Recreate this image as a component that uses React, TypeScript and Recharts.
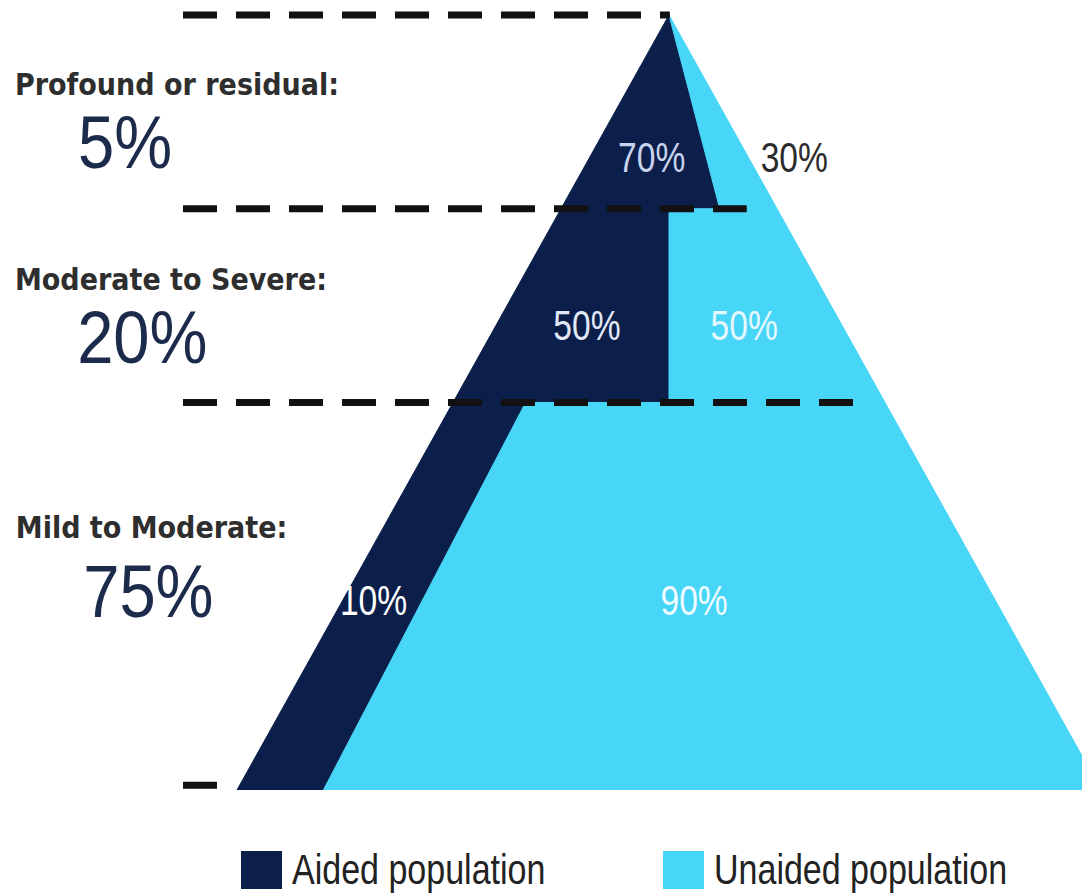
import React from 'react';
import { ComposedChart, Area, XAxis, YAxis, ReferenceLine, ReferenceDot, Legend } from 'recharts';

// pyramid layers, top first
const layerNames = ['Profound or residual:', 'Moderate to Severe:', 'Mild to Moderate:'];
const layerShares = ['5%', '20%', '75%'];
const aidedShare = [70, 50, 10];
const unaidedShare = [30, 50, 90];
const seriesNames = ['Aided population', 'Unaided population'];

// layer bounds on a 0 (base) .. 100 (apex) height scale
const layerTop = [100, 75, 50];
const layerBottom = [75, 50, 0];
// where the aided part stops, as a fraction of the layer width at its top / bottom edge
const aidedEdgeTop = [0, 0.5, 0.168];
const aidedEdgeBottom = [0.735, 0.5, 0.1];

const AIDED = '#0b1f4a';
const UNAIDED = '#47d5f8';
const SANS = "'Liberation Sans', Arial, sans-serif";
const CONDENSED = "'DejaVu Sans Condensed', 'DejaVu Sans', sans-serif";

// base of the pyramid runs from -50 to 50
const halfWidth = (level: number) => 50 * (1 - level / 100);

const rows = layerNames.flatMap((_, i) =>
  [layerTop[i], layerBottom[i]].map((level, j) => {
    const hw = halfWidth(level);
    const edge = -hw + 2 * hw * (j === 0 ? aidedEdgeTop[i] : aidedEdgeBottom[i]);
    return { level, aided: [-hw, edge], unaided: [edge, hw] };
  })
);

// dashed guides on the left
const guideLevels = [100, 75, 50, 0.6];
const guideEnds = [0.1, 9, 21.3, -52.3];
const GUIDE_START = -56.25;

// text anchors, in chart units
const nameAnchors = [{ x: -75.7, y: 89.7 }, { x: -75.7, y: 64.5 }, { x: -75.6, y: 32.5 }];
const shareAnchors = [{ x: -68.4, y: 80.3 }, { x: -68.5, y: 55.1 }, { x: -67.8, y: 22.3 }];
const aidedAnchors = [{ x: -2, y: 79.7 }, { x: -9.5, y: 58.1 }, { x: -34.2, y: 22.6 }];
const unaidedAnchors = [{ x: 14.5, y: 79.7 }, { x: 8.7, y: 58.1 }, { x: 2.9, y: 22.6 }];
const aidedTextColors = ['#c9d3ee', '#e2e8f7', '#ffffff'];
const unaidedTextColors = ['#2b2b2b', '#e4f7fd', '#eefbff'];
const legendX = [241, 663];

// condensed look: squeeze the glyphs horizontally around the anchor
const textShape = (text: string, style: React.SVGProps<SVGTextElement>, sx = 1) => (p: any) => (
  <text transform={`translate(${p.cx} ${p.cy}) scale(${sx} 1)`} {...style}>{text}</text>
);

const renderLegend = (props: any) => {
  const items = (props.payload || []).filter((p: any) => p.type !== 'none');
  return (
    <svg width={1082} height={47} style={{ display: 'block' }}>
      {items.map((item: any, i: number) => (
        <g key={item.value}>
          <rect x={legendX[i]} y={5} width={41} height={38} fill={item.color} />
          <text
            transform={`translate(${legendX[i] + 51} 38) scale(0.81 1)`}
            fontFamily={SANS}
            fontSize={42}
            fill="#222"
          >
            {item.value}
          </text>
        </g>
      ))}
    </svg>
  );
};

export default function App() {
  return (
    <div style={{ position: 'absolute', left: 0, top: 0, width: 1082, height: 893, background: '#fff', overflow: 'hidden' }}>
      <ComposedChart
        width={1082}
        height={893}
        data={rows}
        layout="vertical"
        margin={{ top: 15, right: 0, bottom: 103, left: 0 }}
      >
        <XAxis type="number" domain={[-77.43, 47.8]} allowDataOverflow hide />
        <YAxis type="number" dataKey="level" domain={[0, 100]} allowDataOverflow reversed hide />
        <Area
          type="linear"
          dataKey="aided"
          name={seriesNames[0]}
          fill={AIDED}
          stroke={AIDED}
          fillOpacity={1}
          isAnimationActive={false}
        />
        <Area
          type="linear"
          dataKey="unaided"
          name={seriesNames[1]}
          fill={UNAIDED}
          stroke={UNAIDED}
          fillOpacity={1}
          isAnimationActive={false}
        />
        {guideLevels.map((lv, i) => (
          <ReferenceLine
            key={'g' + i}
            segment={[{ x: GUIDE_START, y: lv }, { x: guideEnds[i], y: lv }]}
            stroke="#111"
            strokeWidth={7}
            strokeDasharray="34 19"
          />
        ))}
        {layerNames.map((name, i) => (
          <ReferenceDot
            key={'n' + i}
            x={nameAnchors[i].x}
            y={nameAnchors[i].y}
            r={0}
            shape={textShape(name, { fontFamily: CONDENSED, fontWeight: 700, fontSize: 30, fill: '#2e2e2e' })}
          />
        ))}
        {layerShares.map((share, i) => (
          <ReferenceDot
            key={'s' + i}
            x={shareAnchors[i].x}
            y={shareAnchors[i].y}
            r={0}
            shape={textShape(share, { fontFamily: SANS, fontSize: 74, fill: '#1c2b4b' }, 0.88)}
          />
        ))}
        {aidedShare.map((v, i) => (
          <ReferenceDot
            key={'a' + i}
            x={aidedAnchors[i].x}
            y={aidedAnchors[i].y}
            r={0}
            shape={textShape(`${v}%`, { fontFamily: SANS, fontSize: 42, textAnchor: 'middle', fill: aidedTextColors[i] }, 0.8)}
          />
        ))}
        {unaidedShare.map((v, i) => (
          <ReferenceDot
            key={'u' + i}
            x={unaidedAnchors[i].x}
            y={unaidedAnchors[i].y}
            r={0}
            shape={textShape(`${v}%`, { fontFamily: SANS, fontSize: 42, textAnchor: 'middle', fill: unaidedTextColors[i] }, 0.8)}
          />
        ))}
        <Legend
          layout="vertical"
          align="center"
          verticalAlign="middle"
          content={renderLegend}
          wrapperStyle={{ left: 0, top: 846, width: 1082 }}
        />
      </ComposedChart>
    </div>
  );
}
